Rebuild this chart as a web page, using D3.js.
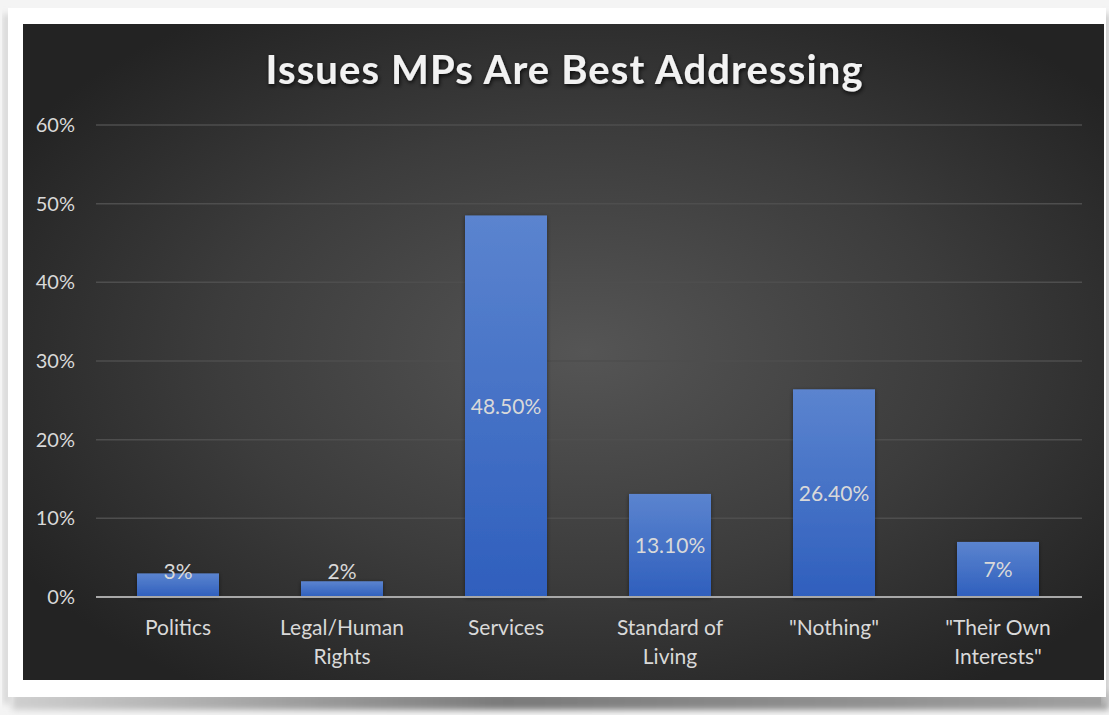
<!DOCTYPE html>
<html>
<head>
<meta charset="utf-8">
<script src="https://cdn.jsdelivr.net/npm/d3@7"></script>
<style>
  html, body { margin: 0; padding: 0; background: #f4f4f4; }
  svg { display: block; }
</style>
</head>
<body>
<svg id="chart" width="1109" height="715"></svg>
<script>
// Survey results: share of respondents per issue
const categories = [["Politics"], ["Legal/Human", "Rights"], ["Services"], ["Standard of", "Living"], ["\"Nothing\""], ["\"Their Own", "Interests\""]];
const values = [0.03, 0.02, 0.485, 0.131, 0.264, 0.07];
const valueLabels = ["3%", "2%", "48.50%", "13.10%", "26.40%", "7%"];
const yTicks = [0, 0.1, 0.2, 0.3, 0.4, 0.5, 0.6];
const title = "Issues MPs Are Best Addressing";

const svg = d3.select("#chart");
const defs = svg.append("defs");
const FONT = "Lato, 'Open Sans', sans-serif";

// Frame shadow under the card
const sh = defs.append("linearGradient").attr("id", "shadowGrad").attr("x1", 0).attr("x2", 1).attr("y1", 0).attr("y2", 0);
sh.append("stop").attr("offset", "0%").attr("stop-color", "#cfcfcf");
sh.append("stop").attr("offset", "45%").attr("stop-color", "#7a7a7a");
sh.append("stop").attr("offset", "100%").attr("stop-color", "#a0a0a0");
const blur = defs.append("filter").attr("id", "soft").attr("x", "-10%").attr("y", "-50%").attr("width", "120%").attr("height", "200%");
blur.append("feGaussianBlur").attr("stdDeviation", 3);

svg.append("rect").attr("x", 12).attr("y", 692).attr("width", 1097).attr("height", 18)
  .attr("fill", "url(#shadowGrad)").attr("filter", "url(#soft)");
svg.append("rect").attr("x", 3).attr("y", 14).attr("width", 8).attr("height", 690)
  .attr("fill", "#d6d6d6").attr("filter", "url(#soft)");
svg.append("rect").attr("x", 1102).attr("y", 14).attr("width", 7).attr("height", 690)
  .attr("fill", "#c4c4c4").attr("filter", "url(#soft)");

// White card
svg.append("rect").attr("x", 8).attr("y", 8).attr("width", 1098).attr("height", 689).attr("fill", "#ffffff");

// Dark chart area with radial light
const bg = defs.append("radialGradient").attr("id", "bgGrad")
  .attr("cx", "52%").attr("cy", "50%").attr("r", "62%");
bg.append("stop").attr("offset", "0%").attr("stop-color", "#555555");
bg.append("stop").attr("offset", "55%").attr("stop-color", "#3c3c3c");
bg.append("stop").attr("offset", "100%").attr("stop-color", "#232323");

const area = { x: 23, y: 24, w: 1081, h: 656 };
svg.append("rect").attr("x", area.x).attr("y", area.y).attr("width", area.w).attr("height", area.h)
  .attr("fill", "url(#bgGrad)");

// Scales
const plot = { left: 96, right: 1080, top: 125, bottom: 597 };
const x = d3.scaleBand().domain(d3.range(values.length)).range([plot.left, plot.right]).paddingInner(0.5).paddingOuter(0.25);
const y = d3.scaleLinear().domain([0, 0.6]).range([plot.bottom, plot.top]);

// Gridlines
svg.append("g").selectAll("line").data(yTicks.filter(d => d > 0)).join("line")
  .attr("x1", plot.left).attr("x2", 1082)
  .attr("y1", d => y(d)).attr("y2", d => y(d))
  .attr("stroke", "#4e4e4e").attr("stroke-width", 1.5);

// Y axis labels
const yAxis = d3.axisLeft(y).tickValues(yTicks).tickFormat(d3.format(".0%")).tickSize(0).tickPadding(21);
const gy = svg.append("g").attr("transform", `translate(${plot.left},0)`).call(yAxis);
gy.select(".domain").remove();
gy.selectAll("text").attr("fill", "#d9d9d9").attr("font-family", FONT).attr("font-size", 20);

// Bars
const barGrad = defs.append("linearGradient").attr("id", "barGrad").attr("x1", 0).attr("x2", 0).attr("y1", 0).attr("y2", 1);
barGrad.append("stop").attr("offset", "0%").attr("stop-color", "#5b84cf");
barGrad.append("stop").attr("offset", "100%").attr("stop-color", "#2f5fbd");
const barShadow = defs.append("filter").attr("id", "barShadow").attr("x", "-20%").attr("y", "-20%").attr("width", "140%").attr("height", "140%");
barShadow.append("feDropShadow").attr("dx", 0).attr("dy", 1).attr("stdDeviation", 2).attr("flood-color", "#000").attr("flood-opacity", 0.45);

svg.append("g").selectAll("rect").data(values).join("rect")
  .attr("x", (d, i) => x(i)).attr("width", x.bandwidth())
  .attr("y", d => y(d)).attr("height", d => y(0) - y(d))
  .attr("fill", "url(#barGrad)").attr("filter", "url(#barShadow)");

// Zero baseline
svg.append("line").attr("x1", plot.left).attr("x2", 1082).attr("y1", y(0)).attr("y2", y(0))
  .attr("stroke", "#a8a8a8").attr("stroke-width", 2);

// Value labels, centred in each bar
svg.append("g").selectAll("text").data(values).join("text")
  .attr("x", (d, i) => x(i) + x.bandwidth() / 2)
  .attr("y", d => Math.min((y(d) + y(0)) / 2, y(0) - 25))
  .attr("dy", "0.35em")
  .attr("text-anchor", "middle")
  .attr("fill", "#d9d9d9")
  .attr("font-family", FONT).attr("font-size", 21)
  .text((d, i) => valueLabels[i]);

// Category labels
const cat = svg.append("g").selectAll("text").data(categories).join("text")
  .attr("x", (d, i) => x(i) + x.bandwidth() / 2)
  .attr("y", 635)
  .attr("text-anchor", "middle")
  .attr("fill", "#d9d9d9")
  .attr("font-family", FONT).attr("font-size", 21);
cat.selectAll("tspan").data(d => d).join("tspan")
  .attr("x", function () { return this.parentNode.getAttribute("x"); })
  .attr("dy", (d, i) => i === 0 ? 0 : 29)
  .text(d => d);

// Title with soft shadow
const tShadow = defs.append("filter").attr("id", "titleShadow").attr("x", "-5%").attr("y", "-30%").attr("width", "110%").attr("height", "160%");
tShadow.append("feDropShadow").attr("dx", 1).attr("dy", 2).attr("stdDeviation", 2).attr("flood-color", "#000").attr("flood-opacity", 0.8);
svg.append("text")
  .attr("x", 564).attr("y", 84)
  .attr("text-anchor", "middle")
  .attr("fill", "#f2f2f2")
  .attr("font-family", FONT).attr("font-weight", "bold").attr("font-size", 40)
  .attr("textLength", 597).attr("lengthAdjust", "spacing")
  .attr("filter", "url(#titleShadow)")
  .text(title);
</script>
</body>
</html>
